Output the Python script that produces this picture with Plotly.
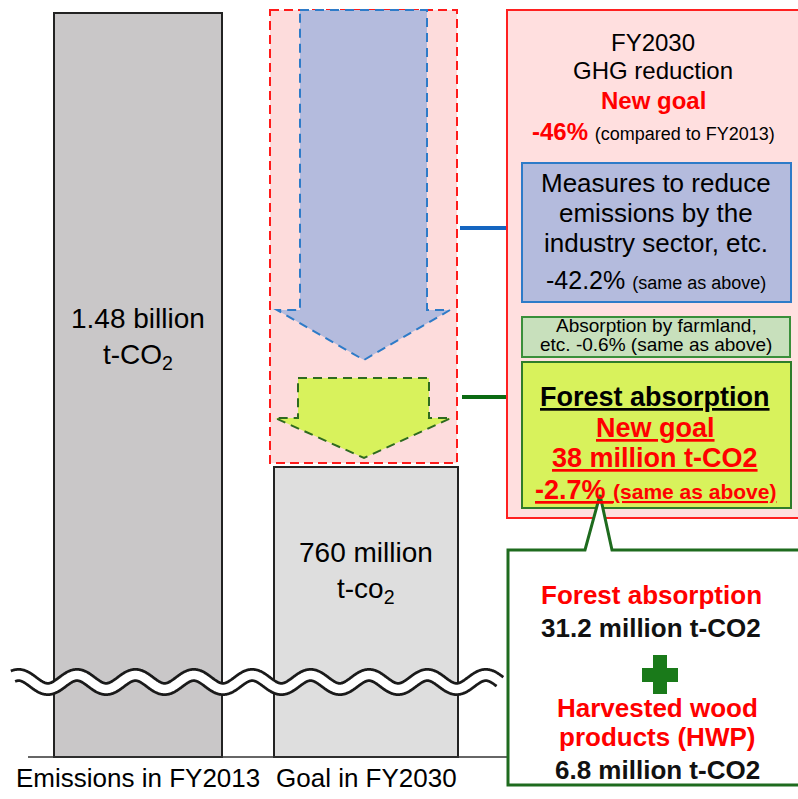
import numpy as np
import plotly.graph_objects as go

# ---------------- data ----------------
categories = ["Emissions in FY2013", "Goal in FY2030"]
emissions_mt = [1480, 760]          # million t-CO2
total_reduction_pct = [46]          # vs FY2013
industry_reduction_pct = [42.2]
farmland_reduction_pct = [0.6]
forest_reduction_pct = [2.7]
forest_components = ["Forest absorption", "Harvested wood products (HWP)"]
forest_component_mt = [31.2, 6.8]

# ---------------- layout constants (pixel canvas) ----------------
W, H = 798, 799
FONT = "Liberation Sans, Arial, sans-serif"
BASE_Y = 757                       # baseline pixel row
BAR_X = [138, 366]
BAR_W = [168, 184]
BAR_COLORS = ["#c9c7c8", "#dedede"]
# broken-axis scale: pixels above baseline = BREAK_PX + (v - BREAK_V) * PX_PER_MT
BREAK_PX, BREAK_V, PX_PER_MT = 74, 417.5, 0.6306


def bar_px(v):
    return BREAK_PX + (v - BREAK_V) * PX_PER_MT


fig = go.Figure()

# bars
for i, v in enumerate(emissions_mt):
    fig.add_trace(go.Bar(
        x=[BAR_X[i]], y=[-bar_px(v)], base=[BASE_Y], width=[BAR_W[i]],
        marker=dict(color=BAR_COLORS[i], line=dict(color="#222222", width=2)),
        hoverinfo="skip", showlegend=False))

# baseline
fig.add_trace(go.Scatter(x=[28, 508], y=[BASE_Y, BASE_Y], mode="lines",
                         line=dict(color="#333333", width=1.5),
                         hoverinfo="skip", showlegend=False))

# axis break wave
xs = np.linspace(13, 500, 1200)
ys = 682 - 7 * np.cos(2 * np.pi * (xs - 77) / 58.4)
fig.add_trace(go.Scatter(x=xs, y=ys, mode="lines",
                         line=dict(color="#1a1a1a", width=14, simplify=False),
                         hoverinfo="skip", showlegend=False))
xs2 = np.linspace(10, 503, 1200)
ys2 = 682 - 7 * np.cos(2 * np.pi * (xs2 - 77) / 58.4)
fig.add_trace(go.Scatter(x=xs2, y=ys2, mode="lines",
                         line=dict(color="white", width=8.5, simplify=False),
                         hoverinfo="skip", showlegend=False))

shapes = []


def rect(x0, y0, x1, y1, fill, color, width=2, dash="solid"):
    shapes.append(dict(type="rect", xref="x", yref="y", x0=x0, y0=y0, x1=x1, y1=y1,
                       fillcolor=fill, line=dict(color=color, width=width, dash=dash),
                       layer="above"))


def poly(pts, fill, color, width=2, dash="solid"):
    p = "M " + " L ".join(f"{x},{y}" for x, y in pts) + " Z"
    shapes.append(dict(type="path", xref="x", yref="y", path=p, fillcolor=fill,
                       line=dict(color=color, width=width, dash=dash), layer="above"))


def line(x0, y0, x1, y1, color, width):
    shapes.append(dict(type="line", xref="x", yref="y", x0=x0, y0=y0, x1=x1, y1=y1,
                       line=dict(color=color, width=width), layer="above"))


# reduction area (dashed pink box) with arrows
rect(270, 10, 457, 463, "#fddcdc", "#ff1a1a", 2, "9px,5px")
poly([(300, 10), (427, 10), (427, 310), (450, 310), (364, 360), (277, 310), (300, 310)],
     "#b4bbdd", "#2e7bc8", 2, "9px,6px")
poly([(298, 378), (429, 378), (429, 418), (451, 418), (364, 458), (275, 418), (298, 418)],
     "#d8f25c", "#2e6b1f", 2, "9px,6px")

# connectors
line(460, 228, 524, 228, "#1565c0", 4)
line(462, 397, 532, 397, "#0b6a12", 4)

# right info box
rect(507, 10, 800, 518, "#ffdfdf", "#ff2020", 2)
rect(522, 163, 791, 302, "#b4bbdd", "#2e7bc8", 2)
rect(522, 317, 790, 357, "#c8e0bc", "#3a8f3a", 2)
rect(522, 362, 791, 508, "#d8f25c", "#2e7d2a", 2)

# callout
poly([(508, 550), (585, 550), (600, 495), (612, 550), (802, 550), (802, 785), (508, 785)],
     "white", "#1e6b1e", 3)
# plus sign
rect(642, 668, 678, 682, "#1a7a1a", "#1a7a1a", 0)
rect(653, 655, 667, 694, "#1a7a1a", "#1a7a1a", 0)

ann = []


def text(x, y, t, size, color="black", bold=False):
    if bold:
        t = f"<b>{t}</b>"
    ann.append(dict(x=x, y=y, xref="x", yref="y", text=t, showarrow=False,
                    xanchor="center", yanchor="middle",
                    font=dict(family=FONT, size=size, color=color)))


# bar labels
text(BAR_X[0], 318, f"{emissions_mt[0] / 1000:.2f} billion", 28)
text(BAR_X[0], 356, "t-CO<sub>2</sub>", 28)
text(BAR_X[1], 552, f"{emissions_mt[1]} million", 28)
text(BAR_X[1], 590, "t-co<sub>2</sub>", 28)
text(BAR_X[0], 778, categories[0], 26)
text(BAR_X[1], 778, categories[1], 26)

# right box text
RED = "#ff0000"
text(653, 42, "FY2030", 24)
text(653, 70, "GHG reduction", 24)
text(653, 100, "New goal", 24, RED, True)
text(653, 131, f"<span style='color:{RED}'><b>-{total_reduction_pct[0]}%</b></span>"
     f" <span style='font-size:18px'>(compared to FY2013)</span>", 24)

text(656, 183, "Measures to reduce", 26)
text(656, 213, "emissions by the", 26)
text(656, 243, "industry sector, etc.", 26)
text(656, 280, f"-{industry_reduction_pct[0]}% <span style='font-size:18px'>(same as above)</span>", 25)

text(656, 325, "Absorption by farmland,", 19)
text(656, 344, f"etc. -{farmland_reduction_pct[0]}% (same as above)", 19)

forest_total = sum(forest_component_mt)
text(655, 397, "<u>Forest absorption</u>", 27, "black", True)
text(655, 428, "<u>New goal</u>", 27, RED, True)
text(655, 458, f"<u>{forest_total:.0f} million t-CO2</u>", 27, RED, True)
text(655, 490, f"<u>-{forest_reduction_pct[0]}% <span style='font-size:21px'>(same as above)</span></u>",
     27, RED, True)

# callout text
text(651, 595, forest_components[0], 26, RED, True)
text(651, 628, f"{forest_component_mt[0]} million t-CO2", 26, "#111111", True)
text(657, 708, "Harvested wood", 26, RED, True)
text(657, 737, "products (HWP)", 26, RED, True)
text(657, 770, f"{forest_component_mt[1]} million t-CO2", 26, "#111111", True)

fig.update_layout(
    width=W, height=H, margin=dict(l=0, r=0, t=0, b=0),
    paper_bgcolor="white", plot_bgcolor="white",
    xaxis=dict(range=[0, W], visible=False, fixedrange=True),
    yaxis=dict(range=[H, 0], visible=False, fixedrange=True),
    shapes=shapes, annotations=ann, showlegend=False, barmode="overlay",
    font=dict(family=FONT),
)

fig.write_html("out.html", config={"displayModeBar": False})
